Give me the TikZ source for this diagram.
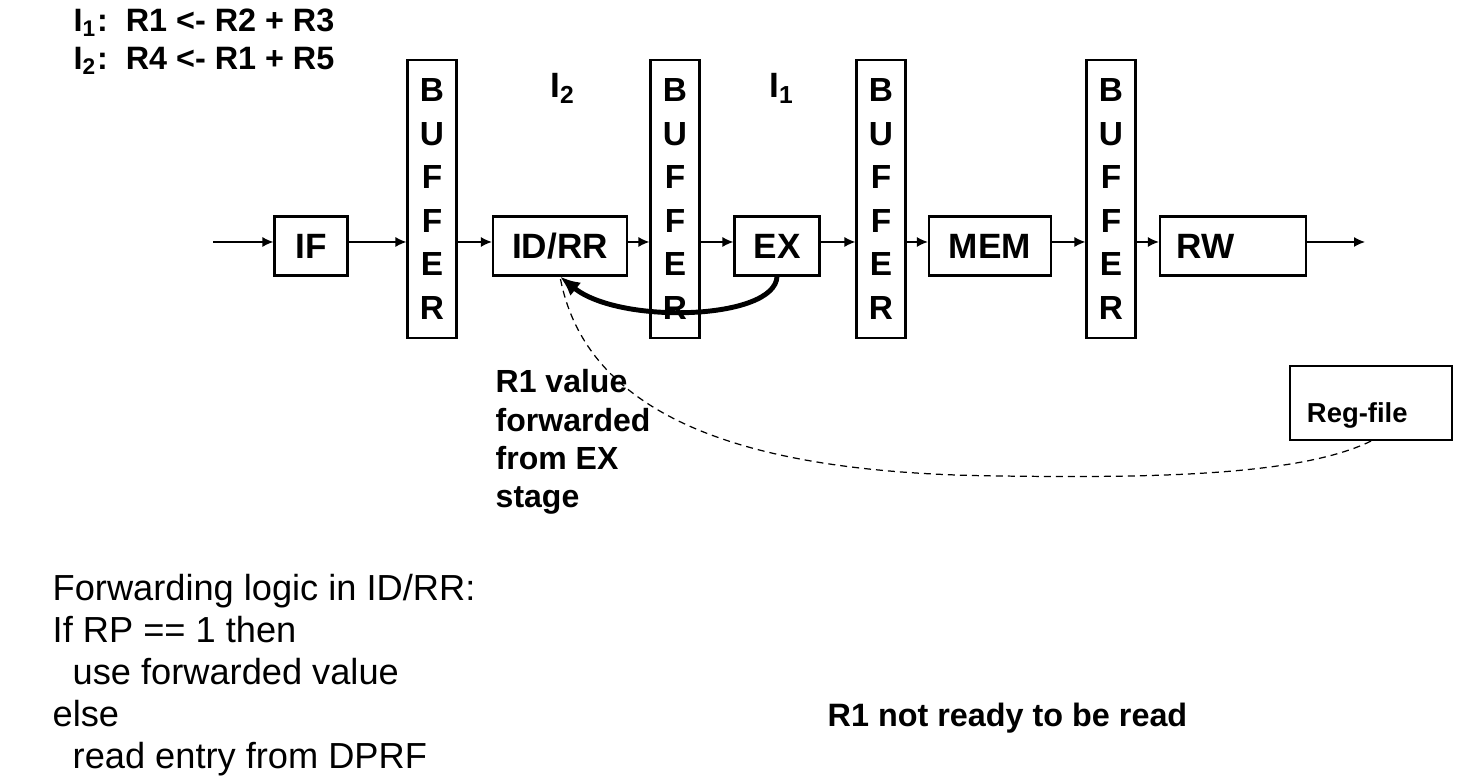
\documentclass[tikz,border=0pt]{standalone}
\usepackage{fontspec}
\setmainfont{Liberation Sans}
\usetikzlibrary{arrows.meta}

\begin{document}
\begin{tikzpicture}[x=0.01cm,y=-0.01cm,
  stage/.style={draw,line width=0.6pt,minimum height=0.59cm,inner sep=0pt,
    font=\bfseries\fontsize{10}{12}\selectfont},
  buffer/.style={draw,line width=0.6pt,minimum width=0.49cm,minimum height=2.78cm,
    inner sep=0pt,align=center,font=\bfseries\fontsize{9.5}{12.4}\selectfont},
  flow/.style={line width=0.4pt,-{Latex[length=1.1mm,width=1mm]}},
  fwd/.style={line width=1.4pt,-{Latex[length=2mm,width=1.7mm]}},
  regpath/.style={line width=0.35pt,dash pattern=on 0.7mm off 0.5mm},
  txt/.style={inner sep=0pt,anchor=base west},
  bold/.style={txt,font=\bfseries\fontsize{9.2}{11}\selectfont}]
\useasboundingbox (0,0) rectangle (1470,780);
%\draw[step=100,gray,very thin] (0,0) grid (1470,780); %background grid

% the two instructions
\node[bold] (ione) at (73,32) {I\textsubscript{1}:~~R1 <- R2 + R3};
\node[bold] (itwo) at (73,70) {I\textsubscript{2}:~~R4 <- R1 + R5};

% pipeline
\node[stage,minimum width=0.73cm] (if) at (311,246) {IF};
\node[buffer] (buf1) at (432,199) {B\\U\\F\\F\\E\\R};
\node[stage,minimum width=1.34cm] (idrr) at (560,246) {ID/RR};
\node[buffer] (buf2) at (675,199) {B\\U\\F\\F\\E\\R};
\node[stage,minimum width=0.85cm] (ex) at (777,246) {EX};
\node[buffer] (buf3) at (881,199) {B\\U\\F\\F\\E\\R};
\node[stage,minimum width=1.22cm] (mem) at (990,246) {MEM};
\node[buffer] (buf4) at (1111,199) {B\\U\\F\\F\\E\\R};
\node[stage,minimum width=1.46cm,text width=1.12cm,inner xsep=0.17cm,align=left] (rw) at (1233,246) {RW};

\node[font=\bfseries\fontsize{10}{12}\selectfont,anchor=base] (ltwo) at (563,98) {I\textsubscript{2}};
\node[font=\bfseries\fontsize{10}{12}\selectfont,anchor=base] (lone) at (782,98) {I\textsubscript{1}};

\coordinate (in) at (213,242);
\coordinate (out) at (1365,242);
\draw[flow] (in) -- (if.west |- in);
\foreach \a/\b in {if/buf1,buf1/idrr,idrr/buf2,buf2/ex,ex/buf3,buf3/mem,mem/buf4,buf4/rw}
  \draw[flow] (\a.east |- in) -- (\b.west |- in);
\draw[flow] (rw.east |- in) -- (out);

% register file and forwarding
\node[draw,line width=0.6pt,minimum width=1.62cm,minimum height=0.74cm,inner xsep=0.17cm,
  text width=1.28cm,align=left,text height=0.38cm,text depth=0cm,
  font=\bfseries\fontsize{7.8}{9}\selectfont] (regfile) at (1371,403) {Reg-file};
\draw[regpath] (regfile.south) .. controls (1300,476) and (1150,478) .. (1000,476)
  .. controls (800,474) and (590,440) .. (idrr.south);
\draw[fwd] (ex.south) .. controls (775,320) and (620,325) .. (idrr.south);

% base of a multi-line node = its last line
\node[bold,align=left,font=\bfseries\fontsize{9.1}{10.9}\selectfont] (fwdnote) at (495,508) {R1 value\\forwarded\\from EX\\stage};

% forwarding logic
\node[txt,align=left,font=\fontsize{10.3}{12}\selectfont] (logic) at (52,769)
  {Forwarding logic in ID/RR:\\If RP == 1 then\\\hspace*{0.2cm}use forwarded value\\else\\\hspace*{0.2cm}read entry from DPRF};
\node[bold] (notready) at (827,727) {R1 not ready to be read};

\end{tikzpicture}
\end{document}
